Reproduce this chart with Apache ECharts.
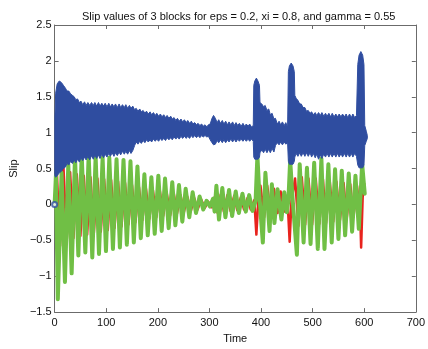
<!DOCTYPE html>
<html>
<head>
<meta charset="utf-8">
<script src="https://cdn.jsdelivr.net/npm/echarts@6/dist/echarts.min.js"></script>
<style>
  html, body { margin: 0; padding: 0; background: #fff; }
  #main { width: 428px; height: 349px; }
</style>
</head>
<body>
<div id="main"></div>
<script>
// block 1 (blue): fast oscillation, kept as its upper / lower envelope
var blueTime = [0.5, 2, 5, 9, 13, 17, 21, 24, 27.5, 31, 34.5, 38, 41, 44.5, 48, 51, 54.5, 58, 61, 64.5,
  68, 71.5, 75, 78, 81.5, 85, 88, 91.5, 95, 98, 101.5, 105, 108, 111.5, 115, 118, 121.5, 125, 128, 131.5,
  135, 138, 141.5, 145, 148, 151.5, 155, 158, 161.5, 165, 168, 171.5, 175, 178, 181.5, 185, 188, 191.5, 195, 198,
  201.5, 205, 208, 211.5, 215, 218, 221.5, 225, 228, 231.5, 235, 238, 241.5, 245, 248, 251.5, 255, 258, 261.5, 265,
  268, 271.5, 275, 278, 281.5, 285, 288, 291.5, 295, 298, 301.5, 305, 308, 311.5, 315, 318, 321.5, 325, 328, 331.5,
  335, 338, 341.5, 345, 348, 351.5, 355, 358, 361.5, 365, 368, 371.5, 375, 378, 381.5, 385, 386, 388, 391, 394,
  397, 398, 401.5, 405, 408, 411.5, 415, 418, 421.5, 425, 428, 431.5, 435, 438, 441.5, 445, 448, 451.5, 453, 455,
  458.5, 462, 464.5, 465.5, 468, 471.5, 475, 478, 481.5, 485, 488, 491.5, 495, 498, 501.5, 505, 508, 511.5, 515, 518,
  521.5, 525, 528, 531.5, 535, 538, 541.5, 545, 548, 551.5, 555, 558, 561.5, 565, 568, 571.5, 575, 578, 581.5, 585,
  587.5, 590, 593.5, 597, 599.5, 601, 604, 606];
var blueUpper = [1.20, 1.55, 1.68, 1.72, 1.70, 1.66, 1.62, 1.58, 1.58, 1.54, 1.52, 1.50, 1.46, 1.47, 1.42, 1.44, 1.39, 1.43, 1.38, 1.42,
  1.38, 1.42, 1.38, 1.42, 1.37, 1.42, 1.37, 1.41, 1.37, 1.41, 1.36, 1.41, 1.36, 1.40, 1.36, 1.40, 1.35, 1.40, 1.35, 1.39,
  1.35, 1.39, 1.34, 1.38, 1.34, 1.37, 1.32, 1.34, 1.30, 1.33, 1.29, 1.31, 1.27, 1.30, 1.26, 1.29, 1.25, 1.28, 1.24, 1.27,
  1.23, 1.26, 1.22, 1.25, 1.21, 1.24, 1.20, 1.23, 1.19, 1.21, 1.17, 1.20, 1.16, 1.19, 1.15, 1.18, 1.14, 1.17, 1.13, 1.16,
  1.12, 1.14, 1.11, 1.13, 1.10, 1.12, 1.09, 1.11, 1.08, 1.11, 1.12, 1.20, 1.24, 1.20, 1.14, 1.18, 1.13, 1.17, 1.12, 1.16,
  1.11, 1.15, 1.11, 1.15, 1.10, 1.14, 1.10, 1.13, 1.09, 1.13, 1.09, 1.12, 1.09, 1.12, 1.08, 1.10, 1.66, 1.72, 1.76, 1.72,
  1.66, 1.42, 1.40, 1.36, 1.38, 1.31, 1.33, 1.25, 1.27, 1.19, 1.20, 1.12, 1.16, 1.11, 1.15, 1.10, 1.14, 1.08, 1.85, 1.93,
  1.97, 1.93, 1.85, 1.52, 1.48, 1.45, 1.40, 1.40, 1.35, 1.35, 1.30, 1.31, 1.27, 1.29, 1.25, 1.28, 1.24, 1.28, 1.24, 1.28,
  1.23, 1.27, 1.23, 1.27, 1.22, 1.27, 1.22, 1.26, 1.22, 1.26, 1.22, 1.26, 1.22, 1.26, 1.21, 1.26, 1.21, 1.26, 1.21, 1.24,
  1.95, 2.08, 2.13, 2.08, 1.95, 1.10, 1.02, 0.96];
var blueLower = [0.40, 0.38, 0.40, 0.44, 0.46, 0.50, 0.52, 0.57, 0.55, 0.60, 0.57, 0.62, 0.58, 0.63, 0.59, 0.65, 0.61, 0.66, 0.62, 0.67,
  0.62, 0.68, 0.63, 0.69, 0.64, 0.69, 0.64, 0.70, 0.65, 0.70, 0.66, 0.71, 0.67, 0.72, 0.67, 0.72, 0.68, 0.73, 0.69, 0.74,
  0.70, 0.74, 0.70, 0.75, 0.71, 0.75, 0.82, 0.87, 0.84, 0.88, 0.85, 0.89, 0.86, 0.90, 0.87, 0.90, 0.87, 0.91, 0.88, 0.91,
  0.88, 0.92, 0.89, 0.92, 0.89, 0.93, 0.90, 0.93, 0.90, 0.94, 0.91, 0.94, 0.91, 0.95, 0.92, 0.95, 0.92, 0.95, 0.92, 0.96,
  0.93, 0.96, 0.93, 0.96, 0.93, 0.96, 0.94, 0.96, 0.94, 0.95, 0.90, 0.86, 0.83, 0.84, 0.89, 0.86, 0.90, 0.86, 0.90, 0.86,
  0.90, 0.87, 0.91, 0.87, 0.91, 0.87, 0.91, 0.88, 0.91, 0.88, 0.91, 0.88, 0.91, 0.88, 0.91, 0.88, 0.66, 0.63, 0.63, 0.63,
  0.66, 0.72, 0.76, 0.72, 0.77, 0.72, 0.77, 0.72, 0.78, 0.73, 0.82, 0.86, 0.83, 0.87, 0.83, 0.87, 0.84, 0.86, 0.60, 0.56,
  0.56, 0.56, 0.60, 0.66, 0.71, 0.67, 0.72, 0.67, 0.72, 0.67, 0.72, 0.67, 0.72, 0.66, 0.71, 0.65, 0.70, 0.63, 0.69, 0.64,
  0.70, 0.66, 0.71, 0.66, 0.71, 0.66, 0.71, 0.66, 0.71, 0.66, 0.71, 0.66, 0.71, 0.66, 0.71, 0.66, 0.71, 0.66, 0.71, 0.67,
  0.55, 0.51, 0.51, 0.51, 0.55, 0.82, 0.88, 0.92];
var blueStart = [[0, 0]];

// block 2 (green): peaks and troughs
var greenTime = [0, 2.5, 6.2, 13.5, 20, 26.5, 33, 39.5, 46, 52.5, 59.5, 66, 73, 79.5, 86, 93, 99.5, 106, 113, 120,
  126.5, 133.5, 140, 147, 153.5, 160.5, 167, 174, 180.5, 187.5, 194, 201, 207.5, 214, 221, 228, 234, 241, 247.5, 254,
  261, 267.5, 274, 281, 288, 294.5, 301, 307, 310, 313.5, 318.5, 325, 331, 338, 344, 351, 357, 364, 370.5, 377,
  383.5, 389.5, 393, 397, 403.5, 408.5, 416.5, 421, 426, 432, 439.5, 445, 450, 453, 456.5, 461, 469.5, 475, 482.5, 489,
  496, 503, 510, 517, 523, 530.5, 537, 543.5, 550, 556.5, 563, 570, 576.5, 583, 589.5, 596, 601];
var greenSlip = [0, 0.40, -1.32, 0.44, -1.08, 0.56, -0.96, 0.67, -0.71, 0.69, -0.67, 0.69, -0.74, 0.67, -0.69, 0.65, -0.65, 0.65, -0.62, 0.63,
  -0.60, 0.62, -0.56, 0.60, -0.53, 0.53, -0.47, 0.42, -0.43, 0.38, -0.41, 0.40, -0.37, 0.36, -0.33, 0.31, -0.29, 0.27, -0.24, 0.22,
  -0.18, 0.17, -0.12, 0.11, -0.07, 0.05, -0.03, 0.08, -0.10, 0.26, -0.21, 0.23, -0.18, 0.20, -0.16, 0.18, -0.12, 0.15, -0.10, 0.13,
  -0.09, 0.05, 0.68, 0.10, -0.53, 0.44, -0.37, 0.28, -0.26, 0.21, -0.21, 0.17, -0.11, 0.05, 0.62, 0.10, -0.70, 0.56, -0.53, 0.51,
  -0.55, 0.58, -0.62, 0.64, -0.62, 0.56, -0.53, 0.49, -0.48, 0.47, -0.43, 0.43, -0.38, 0.40, -0.34, 0.56, 0.15];

// block 3 (red): peaks and troughs
var redTime = [0, 4, 10.5, 17, 23.5, 30, 36.5, 43, 50, 56.5, 63, 69.5, 76, 83, 89.5, 96, 103, 109.5, 116, 123,
  129.5, 136.5, 143, 150, 156.5, 163.5, 170, 177, 183.5, 190.5, 197, 204, 210.5, 217, 224, 231, 237, 244, 250.5, 257,
  264, 270.5, 277, 284, 291, 297.5, 304, 310, 316, 322, 328, 335, 341, 348, 354, 361, 367, 374, 380, 387,
  391, 395, 399, 406, 412, 419, 425, 432, 438, 445, 451, 455.5, 459, 466, 472.5, 479, 485.5, 492, 499, 506,
  513, 520, 526, 533, 540, 546, 553, 560, 566, 573, 579, 586, 592.5, 594, 597, 600];
var redSlip = [0, 0.50, -0.58, 0.55, -0.50, 0.45, -0.47, 0.42, -0.44, 0.40, -0.42, 0.38, -0.40, 0.36, -0.38, 0.35, -0.36, 0.34, -0.33, 0.32,
  -0.31, 0.30, -0.28, 0.27, -0.25, 0.24, -0.22, 0.22, -0.20, 0.20, -0.18, 0.19, -0.16, 0.17, -0.15, 0.15, -0.13, 0.13, -0.11, 0.11,
  -0.09, 0.09, -0.07, 0.07, -0.05, 0.04, -0.04, 0.10, -0.12, 0.14, -0.10, 0.13, -0.09, 0.12, -0.08, 0.10, -0.07, 0.09, -0.07, 0.06,
  -0.42, 0.10, 0.26, -0.18, 0.26, -0.14, 0.22, -0.12, 0.18, -0.10, 0.12, -0.52, 0.05, 0.36, -0.30, 0.38, -0.28, 0.36, -0.28, 0.36,
  -0.27, 0.35, -0.26, 0.34, -0.24, 0.32, -0.22, 0.30, -0.20, 0.28, -0.18, 0.26, -0.20, -0.60, 0.10, 0.30];

var xTicks = { min: 0, max: 700, interval: 100 };
var yTicks = { min: -1.5, max: 2.5, interval: 0.5 };

function pairs(xs, ys) {
    return xs.map(function (x, i) { return [x, ys[i]]; });
}

var font = '"Liberation Sans", Arial, sans-serif';
var axisGray = '#6b6b6b';

function minus(v) {
    return String(v).replace('-', '\u2212');
}

var myChart = echarts.init(document.getElementById('main'));
myChart.setOption({
    animation: false,
    title: {
        text: 'Slip values of 3 blocks for eps = 0.2, xi = 0.8, and gamma = 0.55',
        left: 77,
        top: 6,
        textStyle: { fontFamily: font, fontSize: 11, fontWeight: 'normal', color: '#111' }
    },
    grid: { left: 52, right: 3, top: 25, bottom: 29 },
    xAxis: [{
        type: 'value',
        min: xTicks.min, max: xTicks.max, interval: xTicks.interval,
        name: 'Time',
        nameLocation: 'middle',
        nameGap: 17,
        nameTextStyle: { fontFamily: font, fontSize: 11, color: '#111' },
        axisLine: { onZero: false, lineStyle: { color: axisGray, width: 1 } },
        axisTick: { inside: true, length: 4, lineStyle: { color: axisGray } },
        axisLabel: { margin: 5, fontFamily: font, fontSize: 11, color: '#111' },
        splitLine: { show: false }
    }, {
        type: 'value',
        position: 'top',
        min: xTicks.min, max: xTicks.max, interval: xTicks.interval,
        axisLine: { onZero: false, lineStyle: { color: axisGray, width: 1 } },
        axisTick: { inside: true, length: 4, lineStyle: { color: axisGray } },
        axisLabel: { show: false },
        splitLine: { show: false }
    }],
    yAxis: [{
        type: 'value',
        min: yTicks.min, max: yTicks.max, interval: yTicks.interval,
        name: 'Slip',
        nameLocation: 'middle',
        nameGap: 32,
        nameTextStyle: { fontFamily: font, fontSize: 11, color: '#111' },
        axisLine: { onZero: false, lineStyle: { color: axisGray, width: 1 } },
        axisTick: { inside: true, length: 4, lineStyle: { color: axisGray } },
        axisLabel: { margin: 3, fontFamily: font, fontSize: 11, color: '#111', formatter: minus },
        splitLine: { show: false }
    }, {
        type: 'value',
        position: 'right',
        min: yTicks.min, max: yTicks.max, interval: yTicks.interval,
        axisLine: { onZero: false, lineStyle: { color: axisGray, width: 1 } },
        axisTick: { inside: true, length: 4, lineStyle: { color: axisGray } },
        axisLabel: { show: false },
        splitLine: { show: false }
    }],
    series: [{
        name: 'block 3',
        type: 'line',
        data: pairs(redTime, redSlip),
        showSymbol: false,
        z: 3,
        lineStyle: { color: '#e8231d', width: 2.5, join: 'round' }
    }, {
        name: 'block 2',
        type: 'line',
        data: pairs(greenTime, greenSlip),
        showSymbol: false,
        z: 4,
        lineStyle: { color: '#70bf45', width: 4, join: 'round', cap: 'round' }
    }, {
        name: 'block 1',
        type: 'custom',
        z: 5,
        data: [[blueTime[0], blueUpper[0]]],
        renderItem: function (params, api) {
            var pts = [];
            blueTime.forEach(function (t, i) { pts.push(api.coord([t, blueUpper[i]])); });
            for (var i = blueTime.length - 1; i >= 0; i--) {
                pts.push(api.coord([blueTime[i], blueLower[i]]));
            }
            return {
                type: 'polygon',
                shape: { points: pts },
                style: { fill: '#2f4da0', stroke: '#2f4da0', lineWidth: 1, lineJoin: 'round' }
            };
        }
    }, {
        name: 'block 1 start',
        type: 'scatter',
        data: blueStart,
        symbol: 'emptyCircle',
        symbolSize: 5,
        z: 6,
        itemStyle: { color: '#2f4da0', borderWidth: 1 }
    }]
});
</script>
</body>
</html>
